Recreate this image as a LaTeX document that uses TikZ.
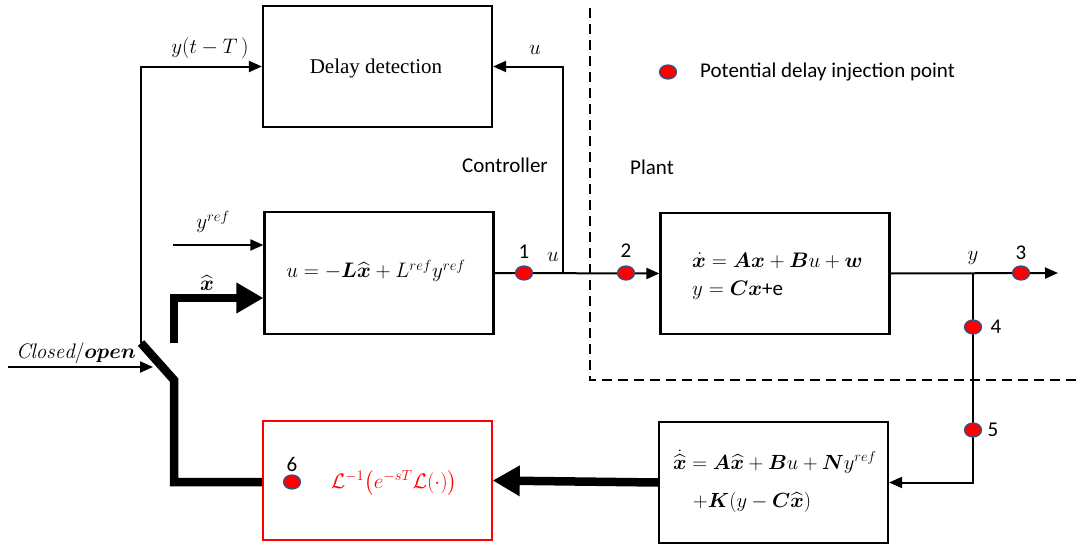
\RequirePackage{fix-cm}
\documentclass[tikz,border=0pt]{standalone}
\usepackage{amsmath}
\usepackage{bm}
\usepackage{fontspec}
\newfontfamily\calibri{Carlito}
\newfontfamily\serifx{Liberation Serif}
\usetikzlibrary{arrows.meta,shapes.geometric}
\definecolor{dotedge}{RGB}{47,82,143}
\begin{document}
\begin{tikzpicture}[x=1pt,y=-1pt,
  box/.style={draw,line width=2.2pt,minimum width=229pt,minimum height=121pt,inner sep=0pt},
  wire/.style={line width=2pt},
  arr/.style={wire,-{Triangle[length=13pt,width=11pt]}},
  fat/.style={line width=8.5pt,line join=miter},
  bigarr/.style={fat,-{Triangle[length=27pt,width=29pt]}},
  dot/.style={ellipse,fill=red,draw=dotedge,line width=1.3pt,minimum width=17pt,minimum height=14pt,inner sep=0pt},
  lab/.style={font=\calibri\fontsize{21}{24}\selectfont,inner sep=0pt},
  mth/.style={font=\fontsize{21}{24}\selectfont,inner sep=0pt},
  divider/.style={line width=2pt,dash pattern=on 10pt off 6pt},
]
\useasboundingbox (0,0) rectangle (1080,546);

% boxes
\node[box] (dd) at (377.5,66.5) {};
\node[font=\serifx\fontsize{21}{24}\selectfont] (ddt) at (376,68) {Delay detection};
\node[box,minimum height=122pt] (ctrl) at (379,273) {};
\node[mth] (ctrlt) at (376,271) {$u = -\bm{L}\widehat{\bm{x}} + L^{ref}y^{ref}$};
\node[box] (plant) at (775,273.5) {};
\node[mth,anchor=west,align=left,font=\fontsize{21}{28}\selectfont] (plt) at (692,276)
  {$\dot{\bm{x}} = \bm{A}\bm{x} + \bm{B}u + \bm{w}$\\$y = \bm{C}\bm{x}${\calibri +e}};
\node[box] (obs) at (773.5,482.5) {};
\node[mth,anchor=west,align=left,font=\fontsize{20.5}{38}\selectfont] (obt) at (673,481)
  {$\dot{\widehat{\bm{x}}} = \bm{A}\widehat{\bm{x}} + \bm{B}u + \bm{N}y^{ref}$\\\hspace*{20pt}$+\bm{K}(y-\bm{C}\widehat{\bm{x}})$};
\node[box,draw=red,line width=1.6pt,minimum height=119pt] (dly) at (377.5,480.5) {};
\node[mth,text=red] (dlyt) at (394,483) {$\mathcal{L}^{-1}\bigl(e^{-sT}\mathcal{L}(\cdot)\bigr)$};

% coordinates
\coordinate (jB) at (563,273);
\coordinate (jY) at (973,273);
\coordinate (outE) at (1058,273);
\coordinate (swTop) at (141,343);
\coordinate (swBot) at (174,380);
\coordinate (xhS) at (174,343);
\coordinate (xhC) at (174,298);
\coordinate (yrS) at (173,245);
\coordinate (coS) at (8,367);
\coordinate (coE) at (153,367);
\coordinate (bl) at (174,482);
\coordinate (dvT) at (590,8);
\coordinate (dvC) at (590,380);
\coordinate (dvR) at (1078,380);

% dashed divider
\draw[divider] (dvT) -- (dvC) -- (dvR);

% connectors
\draw[arr] (ctrl.east) -- (plant.west);
\draw[arr] (jB) |- (dd.east);
\draw[arr] (plant.east) -- (outE);
\draw[arr] (jY) |- (obs.east);
\draw[bigarr] (obs.west) -- (dly.east);
\draw[fat] (dly.west |- bl) -- (bl) -- (swBot) -- (swTop);
\draw[arr] (swTop) |- (dd.west);
\draw[bigarr] (xhS) -- (xhC) -- (ctrl.west |- xhC);
\draw[arr] (yrS) -- (ctrl.west |- yrS);
\draw[arr] (coS) -- (coE);

% dots
\node[dot] (d1) at (524,273) {};
\node[dot] (d2) at (626,273) {};
\node[dot] (d3) at (1021,273) {};
\node[dot] (d4) at (973,327) {};
\node[dot] (d5) at (973,430) {};
\node[dot] (d6) at (292,482) {};
\node[dot] (dl) at (668,72) {};

% labels
\node[lab] (l1) at (524,252) {1};
\node[lab] (l2) at (626,251) {2};
\node[lab] (l3) at (1021,253) {3};
\node[lab] (l4) at (996,327) {4};
\node[lab] (l5) at (993,430) {5};
\node[lab] (l6) at (292,464) {6};
\node[lab,anchor=west] (leg) at (700,72) {Potential delay injection point};
\node[lab] (ctl) at (505,165) {Controller};
\node[lab] (plnt) at (652,167) {Plant};
\node[mth] (yT) at (210,48) {$y(t-T\,)$};
\node[mth] (u1) at (535,50) {$u$};
\node[mth] (u2) at (553,257) {$u$};
\node[mth] (yo) at (973,258) {$y$};
\node[mth] (yr) at (213,222) {$y^{ref}$};
\node[mth] (xh) at (207,283) {$\widehat{\bm{x}}$};
\node[mth] (co) at (76,353) {$\mathit{Closed}/\bm{open}$};
\end{tikzpicture}
\end{document}
